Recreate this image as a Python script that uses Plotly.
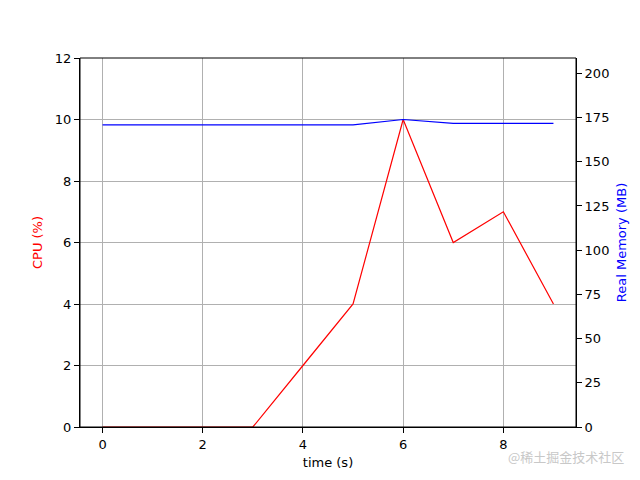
import plotly.graph_objects as go

# 시간(초)별 CPU 사용률과 메모리 사용량
time_s = [0, 1, 2, 3, 4, 5, 6, 7, 8, 9]
cpu_pct = [0, 0, 0, 0, 2, 4, 10, 6, 7, 4]
mem_mb = [170.9, 170.9, 170.9, 170.9, 170.9, 170.9, 173.9, 171.7, 171.7, 171.7]

fig = go.Figure()

fig.add_trace(go.Scatter(x=time_s, y=cpu_pct, mode='lines',
                         line=dict(color='red', width=1.2), name='CPU'))
fig.add_trace(go.Scatter(x=time_s, y=mem_mb, mode='lines', yaxis='y2',
                         line=dict(color='blue', width=1.2), name='Memory'))

axis_common = dict(showline=True, linecolor='black', linewidth=1, mirror=False,
                   ticks='outside', ticklen=5, tickcolor='black', zeroline=False,
                   automargin=False, tickfont=dict(size=13, color='black'))

fig.update_layout(
    width=640, height=480,
    margin=dict(l=80, r=64, t=58, b=53),
    plot_bgcolor='white', paper_bgcolor='white',
    font=dict(family='DejaVu Sans', size=13, color='black'),
    showlegend=False,
    xaxis=dict(range=[-0.45, 9.45], tickvals=[0, 2, 4, 6, 8],
               showgrid=True, gridcolor='#b0b0b0', gridwidth=1,
               title=dict(text='time (s)', font=dict(size=13), standoff=7),
               **axis_common),
    yaxis=dict(range=[0, max(cpu_pct) * 1.2], tickvals=[0, 2, 4, 6, 8, 10, 12],
               showgrid=True, gridcolor='#b0b0b0', gridwidth=1,
               title=dict(text='CPU (%)', font=dict(size=13, color='red'), standoff=9),
               **axis_common),
    yaxis2=dict(range=[0, max(mem_mb) * 1.2], overlaying='y', side='right',
                tickvals=[0, 25, 50, 75, 100, 125, 150, 175, 200], showgrid=False,
                title=dict(text='Real Memory (MB)', font=dict(size=13, color='blue'), standoff=8),
                **axis_common),
    shapes=[
        dict(type='rect', xref='paper', yref='paper', x0=0, y0=0, x1=1, y1=1,
             line=dict(color='black', width=1), fillcolor='rgba(0,0,0,0)', layer='above'),
    ],
    annotations=[
        dict(text='@稀土掘金技术社区', xref='paper', yref='paper', x=1.1, y=-0.081,
             xanchor='right', yanchor='middle', showarrow=False,
             font=dict(family='Noto Sans CJK SC', size=13, color='#c8c8c8')),
    ],
)

fig.write_html("out.html", config={'displayModeBar': False},
               post_script="document.body.style.margin='0';")
